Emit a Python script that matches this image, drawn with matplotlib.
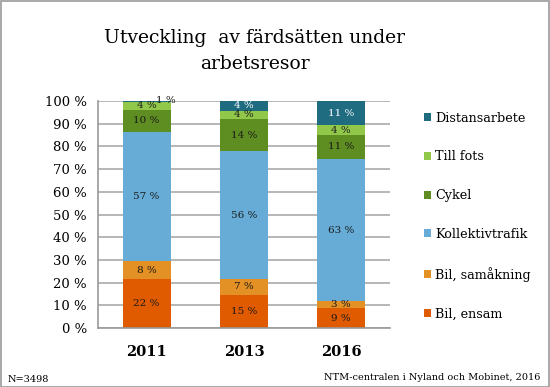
import matplotlib.pyplot as plt
from matplotlib.patches import Rectangle

# Data (share of trips, %)
years = ["2011", "2013", "2016"]
series = ["Bil, ensam", "Bil, samåkning", "Kollektivtrafik", "Cykel", "Till fots", "Distansarbete"]
bil_ensam = [21.6, 14.6, 8.6]
bil_samakning = [7.9, 7.0, 3.2]
kollektivtrafik = [57.0, 56.2, 62.6]
cykel = [9.6, 14.2, 10.7]
till_fots = [3.6, 3.7, 4.2]
distansarbete = [0.6, 4.3, 10.7]

values = [bil_ensam, bil_samakning, kollektivtrafik, cykel, till_fots, distansarbete]
colors = ['#E05A00', '#E39024', '#66ACD6', '#5E8E22', '#92C84A', '#1F6B80']
text_colors = ['#1a1a1a', '#1a1a1a', '#1a1a1a', '#1a1a1a', '#1a1a1a', 'white']

plt.rcParams['font.family'] = ['DejaVu Serif']

fig = plt.figure(figsize=(5.5, 3.87), dpi=100)
ax = fig.add_axes([98 / 550, 1 - 328 / 387, 292 / 550, 227 / 387])

x = range(len(years))
bar_width = 0.49
bottoms = [0.0] * len(years)
for vals, col, tcol, name in zip(values, colors, text_colors, series):
    ax.bar(x, vals, bottom=bottoms, width=bar_width, color=col, label=name, zorder=2)
    for i, v in enumerate(vals):
        lab = f"{v:.0f} %"
        if v < 2:
            # tiny segment: label sits at the top, shifted right
            ax.text(i + 0.2, bottoms[i] + v, lab, ha='center', va='center',
                    fontsize=7.5, color='#1a1a1a', zorder=3)
        else:
            ax.text(i, bottoms[i] + v / 2, lab, ha='center', va='center',
                    fontsize=7.5, color=tcol, zorder=3)
    bottoms = [b + v for b, v in zip(bottoms, vals)]

ax.set_xlim(-0.5, 2.5)
ax.set_ylim(0, 100)
ax.set_yticks(range(0, 101, 10))
ax.set_yticklabels([f"{t} %" for t in range(0, 101, 10)], fontsize=9.5)
ax.set_xticks(list(x))
ax.set_xticklabels(years, fontsize=10.5, fontweight='semibold')
ax.tick_params(axis='y', length=0, pad=8)
ax.tick_params(axis='x', length=0, pad=12)
ax.grid(axis='y', color='#AAAAAA', linewidth=1.2, zorder=0)
for s in ['top', 'right']:
    ax.spines[s].set_visible(False)
for s in ['left', 'bottom']:
    ax.spines[s].set_color('#999999')
    ax.spines[s].set_linewidth(1.2)

handles, labels = ax.get_legend_handles_labels()
leg = fig.legend(handles[::-1], labels[::-1], loc='upper left',
                 bbox_to_anchor=(412 / 550, 1 - 100 / 387), frameon=False,
                 fontsize=9.2, handlelength=0.6, handleheight=0.6,
                 handletextpad=0.3, labelspacing=2.02)

fig.text(0.463, 1 - 38 / 387, "Utveckling  av färdsätten under", ha='center', va='center', fontsize=13.5)
fig.text(0.463, 1 - 64 / 387, "arbetsresor", ha='center', va='center', fontsize=13.5)
fig.text(8 / 550, 1 - 379 / 387, "N=3498", ha='left', va='center', fontsize=7)
fig.text(540 / 550, 1 - 377 / 387, "NTM-centralen i Nyland och Mobinet, 2016",
         ha='right', va='center', fontsize=7)

fig.patches.append(Rectangle((0.001, 0.001), 0.997, 0.997, transform=fig.transFigure,
                             fill=False, edgecolor='#999999', linewidth=1.2))

fig.savefig("out.png", dpi=100)
